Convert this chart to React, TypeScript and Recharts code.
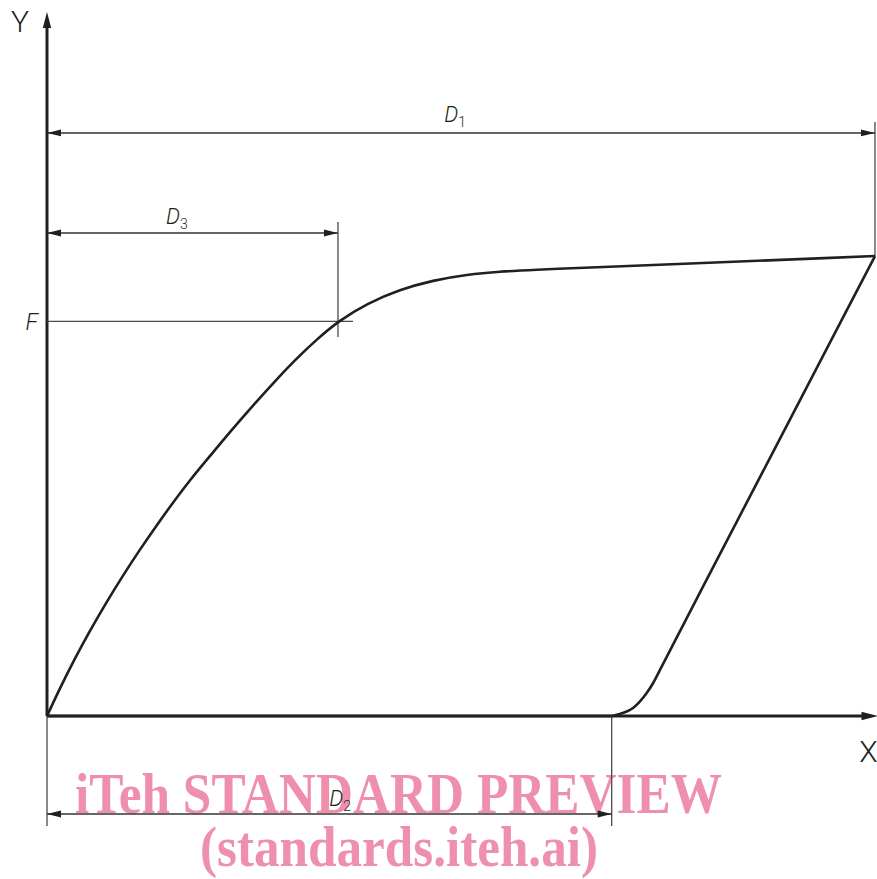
import React from 'react';
import { LineChart, Line, XAxis, YAxis, ReferenceLine, ReferenceDot } from 'recharts';

// ---- data (X: displacement 0..100, Y: force 0..100) ----
const loadingCurve = [
  { x: 0, y: 0 },
  { x: 1.57, y: 3.99 },
  { x: 3.14, y: 7.71 },
  { x: 5.19, y: 12.2 },
  { x: 7.25, y: 16.38 },
  { x: 9.18, y: 20.08 },
  { x: 11.23, y: 23.8 },
  { x: 13.29, y: 27.32 },
  { x: 15.22, y: 30.49 },
  { x: 17.27, y: 33.72 },
  { x: 19.69, y: 37.15 },
  { x: 22.1, y: 40.58 },
  { x: 25.12, y: 44.69 },
  { x: 28.14, y: 48.62 },
  { x: 30.19, y: 51.14 },
  { x: 32.61, y: 53.83 },
  { x: 35.14, y: 56.37 },
  { x: 38.65, y: 58.94 },
  { x: 42.63, y: 60.93 },
  { x: 46.62, y: 62.24 },
  { x: 50.72, y: 63.07 },
  { x: 54.71, y: 63.5 },
  { x: 58.7, y: 63.74 },
  { x: 100, y: 65.71 },
];
const unloadingCurve = [
  { x: 68.2, y: 0 },
  { x: 69.2, y: 0.29 },
  { x: 70.01, y: 0.61 },
  { x: 70.81, y: 1.1 },
  { x: 71.62, y: 2.04 },
  { x: 72.43, y: 3.24 },
  { x: 73.22, y: 4.67 },
  { x: 74.03, y: 6.57 },
  { x: 75.24, y: 9.43 },
  { x: 100, y: 65.71 },
];
const baseLine = [
  { x: 0, y: 0 },
  { x: 68.2, y: 0 },
];

const axisLines = [
  { id: 'y', from: { x: 0, y: 0 }, to: { x: 0, y: 100.57 } },
  { id: 'x', from: { x: 0, y: 0 }, to: { x: 100.3, y: 0 } },
];
const dimensionLines = [
  { id: 'D1', y: 83.29, from: 0, to: 100 },
  { id: 'D3', y: 69.0, from: 0, to: 35.14 },
  { id: 'D2', y: -14.0, from: 0, to: 68.2 },
];
const extensionLines = [
  { x: 100, y1: 65.71, y2: 84.86 },
  { x: 35.14, y1: 54.14, y2: 70.57 },
  { x: 0, y1: 0, y2: -15.71 },
  { x: 68.2, y1: 0, y2: -15.71 },
];
const forceLine = { y: 56.37, from: 0, to: 36.96 };

const dimLabels = [
  { main: 'D', sub: '1', x: 49.3, y: 84.86 },
  { main: 'D', sub: '3', x: 15.7, y: 70.3 },
  { main: 'D', sub: '2', x: 35.4, y: -12.86 },
];
const axisLabels = [
  { text: 'Y', x: -3.26, y: 97.71 },
  { text: 'X', x: 99.2, y: -6.57 },
];
const forceLabel = { text: 'F', x: -1.09, y: 55.14 };

const watermarkLines = ['iTeh STANDARD PREVIEW', '(standards.iteh.ai)'];

const INK = '#231f20';
const FONT = 'Roboto, "Liberation Sans", sans-serif';

const arrowPoints = (tx: number, ty: number, dx: number, dy: number, len: number, half: number) => {
  const l = Math.hypot(dx, dy) || 1;
  const ux = dx / l;
  const uy = dy / l;
  const bx = tx - ux * len;
  const by = ty - uy * len;
  const px = -uy * half;
  const py = ux * half;
  return `${tx},${ty} ${bx + px},${by + py} ${bx - px},${by - py}`;
};

const AxisShape = (props: any) => {
  const { x1, y1, x2, y2 } = props;
  const len = 16;
  const dx = x2 - x1;
  const dy = y2 - y1;
  const l = Math.hypot(dx, dy) || 1;
  const ex = x2 - (dx / l) * (len - 2);
  const ey = y2 - (dy / l) * (len - 2);
  return (
    <g>
      <line x1={x1} y1={y1} x2={ex} y2={ey} stroke={INK} strokeWidth={3} />
      <polygon points={arrowPoints(x2, y2, dx, dy, len, 4.2)} fill={INK} />
    </g>
  );
};

const DimShape = (props: any) => {
  const { x1, y1, x2, y2 } = props;
  return (
    <g>
      <line x1={x1} y1={y1} x2={x2} y2={y2} stroke="#333" strokeWidth={1.4} />
      <polygon points={arrowPoints(x1, y1, x1 - x2, y1 - y2, 14, 3.4)} fill={INK} />
      <polygon points={arrowPoints(x2, y2, x2 - x1, y2 - y1, 14, 3.4)} fill={INK} />
    </g>
  );
};

const ThinShape = (props: any) => {
  const { x1, y1, x2, y2 } = props;
  return <line x1={x1} y1={y1} x2={x2} y2={y2} stroke="#4a4a4a" strokeWidth={1.3} />;
};

const makeDimLabel = (main: string, sub: string) => (props: any) => (
  <text x={props.cx} y={props.cy} textAnchor="middle" fill={INK} fontFamily={FONT} fontWeight={300}>
    <tspan fontSize={22} fontStyle="italic">{main}</tspan>
    <tspan fontSize={14} dy={5}>{sub}</tspan>
  </text>
);

const makeAxisLabel = (t: string) => (props: any) => (
  <text x={props.cx} y={props.cy} textAnchor="middle" fill={INK} fontFamily={FONT} fontWeight={300} fontSize={30}>
    {t}
  </text>
);

const makeForceLabel = (t: string) => (props: any) => (
  <text x={props.cx} y={props.cy} textAnchor="end" fill={INK} fontFamily={FONT} fontWeight={300} fontStyle="italic" fontSize={23}>
    {t}
  </text>
);

export default function App() {
  return (
    <div style={{ position: 'absolute', left: 0, top: 0, width: 877, height: 879, background: '#fff' }}>
      <svg
        width={877}
        height={879}
        style={{ position: 'absolute', left: 0, top: 0, pointerEvents: 'none' }}
      >
        <text
          x={75}
          y={813}
          fill="#ee8fad"
          fontFamily='"Liberation Serif", "Times New Roman", serif'
          fontWeight="bold"
          fontSize={57}
          textLength={647}
          lengthAdjust="spacingAndGlyphs"
        >
          {watermarkLines[0]}
        </text>
        <text
          x={200}
          y={866}
          fill="#ee8fad"
          fontFamily='"Liberation Serif", "Times New Roman", serif'
          fontWeight="bold"
          fontSize={57}
          textLength={398}
          lengthAdjust="spacingAndGlyphs"
        >
          {watermarkLines[1]}
        </text>
      </svg>
      <div style={{ position: 'absolute', left: 0, top: 0 }}>
        <LineChart width={877} height={879} margin={{ top: 16, right: 2, bottom: 163, left: 47 }}>
          <XAxis type="number" dataKey="x" domain={[0, 100]} hide />
          <YAxis type="number" dataKey="y" domain={[0, 100]} hide />

          {axisLines.map((a) => (
            <ReferenceLine key={a.id} segment={[a.from, a.to]} ifOverflow="visible" shape={AxisShape} />
          ))}
          {extensionLines.map((e, i) => (
            <ReferenceLine
              key={`ext${i}`}
              segment={[{ x: e.x, y: e.y1 }, { x: e.x, y: e.y2 }]}
              ifOverflow="visible"
              shape={ThinShape}
            />
          ))}
          <ReferenceLine
            segment={[{ x: forceLine.from, y: forceLine.y }, { x: forceLine.to, y: forceLine.y }]}
            ifOverflow="visible"
            shape={ThinShape}
          />
          {dimensionLines.map((d) => (
            <ReferenceLine
              key={d.id}
              segment={[{ x: d.from, y: d.y }, { x: d.to, y: d.y }]}
              ifOverflow="visible"
              shape={DimShape}
            />
          ))}

          <Line data={baseLine} dataKey="y" type="linear" stroke={INK} strokeWidth={2.6} dot={false} activeDot={false} isAnimationActive={false} />
          <Line data={loadingCurve} dataKey="y" type="basis" stroke={INK} strokeWidth={2.6} dot={false} activeDot={false} isAnimationActive={false} />
          <Line data={unloadingCurve} dataKey="y" type="basis" stroke={INK} strokeWidth={2.6} dot={false} activeDot={false} isAnimationActive={false} />

          {dimLabels.map((l) => (
            <ReferenceDot key={`${l.main}${l.sub}`} x={l.x} y={l.y} r={0} ifOverflow="visible" shape={makeDimLabel(l.main, l.sub)} />
          ))}
          {axisLabels.map((l) => (
            <ReferenceDot key={l.text} x={l.x} y={l.y} r={0} ifOverflow="visible" shape={makeAxisLabel(l.text)} />
          ))}
          <ReferenceDot x={forceLabel.x} y={forceLabel.y} r={0} ifOverflow="visible" shape={makeForceLabel(forceLabel.text)} />
        </LineChart>
      </div>
    </div>
  );
}
